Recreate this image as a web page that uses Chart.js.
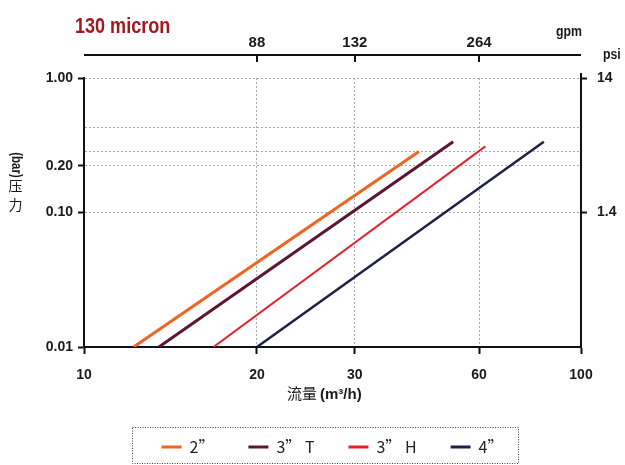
<!DOCTYPE html>
<html>
<head>
<meta charset="utf-8">
<title>130 micron</title>
<script src="https://cdn.jsdelivr.net/npm/chart.js@4.4.1/dist/chart.umd.min.js"></script>
<style>
  html, body { margin: 0; padding: 0; background: #fff; }
  .chart-box { width: 625px; height: 465px; position: relative; }
</style>
</head>
<body>
<div class="chart-box"><canvas id="pressureChart"></canvas></div>
<script>
// flow (m3/h) and pressure drop (bar) at the two ends of each curve
const seriesNames = ['2”', '3” T', '3” H', '4”'];
const flow2in = [12.2, 42.9];
const bar2in = [0.01, 0.26];
const flow3T = [13.5, 51.9];
const bar3T = [0.01, 0.31];
const flow3H = [16.8, 61.9];
const bar3H = [0.01, 0.285];
const flow4in = [20, 83];
const bar4in = [0.01, 0.31];

const flowTicks = [10, 20, 30, 60, 100];
const gpmTicks = [88, 132, 264];
const barTicks = [0.01, 0.1, 0.2, 1];
const barGridOnly = [0.26, 0.4];
const psiTicks = [1.4, 14];

const colors = ['#ee6423', '#5c1535', '#e6232c', '#1d2048'];
const widths = [3, 3, 2, 2.5];

const SANS = '"Liberation Sans", Arial, sans-serif';
const CJK = '"Noto Sans CJK SC", sans-serif';
const INK = '#1a1a1a';

// The printed axes are not true log axes: every labelled tick sits at its own spot.
// Between two knots the scale is logarithmic.
const flowKnots = { values: [10, 20, 30, 60, 100], fracs: [0, 0.348, 0.545, 0.795, 1] };
const barKnots = { values: [0.01, 0.1, 0.2, 1], fracs: [0, 0.5, 0.674, 1] };
const axisKnots = {
  x: flowKnots,
  x2: { values: flowKnots.values.map(v => v * 4.4), fracs: flowKnots.fracs },
  y: barKnots,
  y2: { values: barKnots.values.map(v => v * 14), fracs: barKnots.fracs }
};

function knotFrac(v, k) {
  const n = k.values.length;
  let i = 0;
  while (i < n - 2 && v > k.values[i + 1]) i++;
  const a = Math.log(k.values[i]);
  const b = Math.log(k.values[i + 1]);
  const t = (Math.log(v) - a) / (b - a);
  return k.fracs[i] + t * (k.fracs[i + 1] - k.fracs[i]);
}

function knotValue(d, k) {
  const n = k.fracs.length;
  let i = 0;
  while (i < n - 2 && d > k.fracs[i + 1]) i++;
  const t = (d - k.fracs[i]) / (k.fracs[i + 1] - k.fracs[i]);
  const a = Math.log(k.values[i]);
  const b = Math.log(k.values[i + 1]);
  return Math.exp(a + t * (b - a));
}

class KnotLogScale extends Chart.LogarithmicScale {
  static id = 'knotlog';
  static defaults = Chart.LogarithmicScale.defaults;
  getPixelForValue(value) {
    const v = value > 0 ? value : this.min;
    return this.getPixelForDecimal(knotFrac(v, axisKnots[this.id]));
  }
  getValueForPixel(pixel) {
    return knotValue(this.getDecimalForPixel(pixel), axisKnots[this.id]);
  }
}
Chart.register(KnotLogScale);

const flows = [flow2in, flow3T, flow3H, flow4in];
const bars = [bar2in, bar3T, bar3H, bar4in];

const datasets = seriesNames.map((name, i) => ({
  label: name,
  data: flows[i].map((x, j) => ({ x, y: bars[i][j] })),
  borderColor: colors[i],
  backgroundColor: colors[i],
  borderWidth: widths[i],
  pointRadius: 0,
  tension: 0,
  xAxisID: 'x',
  yAxisID: 'y'
}));

const tickFont = { family: SANS, size: 14, weight: 'bold' };

// condensed bold text, like the narrow face of the original
function narrowText(ctx, text, x, y, size, align) {
  ctx.save();
  ctx.font = 'bold ' + size + 'px ' + SANS;
  ctx.textAlign = align || 'left';
  ctx.translate(x, y);
  ctx.scale(0.82, 1);
  ctx.fillText(text, 0, 0);
  ctx.restore();
}

const decorations = {
  id: 'decorations',
  afterDraw(chart) {
    const { ctx, chartArea: area, scales } = chart;
    ctx.save();

    // gpm axis line sits above the plot, ticks hang down from it
    const topY = 55;
    ctx.strokeStyle = '#111';
    ctx.lineWidth = 2;
    ctx.beginPath();
    ctx.moveTo(area.left, topY);
    ctx.lineTo(area.right, topY);
    gpmTicks.forEach(v => {
      const px = Math.round(scales.x2.getPixelForValue(v));
      ctx.moveTo(px, topY);
      ctx.lineTo(px, topY + 7);
    });
    ctx.moveTo(area.right, area.top);
    ctx.lineTo(area.right, area.top - 5);
    ctx.stroke();

    // title and unit labels
    ctx.textBaseline = 'alphabetic';
    ctx.fillStyle = '#a3171e';
    narrowText(ctx, '130 micron', 75, 33, 22);

    ctx.fillStyle = INK;
    narrowText(ctx, 'gpm', 582, 36, 15, 'right');
    narrowText(ctx, 'psi', 603, 59, 15);

    // x title: chinese + bold unit
    ctx.textAlign = 'left';
    ctx.font = '15px ' + CJK;
    const cjkW = ctx.measureText('流量').width;
    ctx.fillText('流量', 287, 399);
    ctx.font = 'bold 15px ' + SANS;
    ctx.fillText('(m³/h)', 287 + cjkW + 3, 399);

    // y title: vertical, latin part turned, chinese upright
    ctx.save();
    ctx.translate(15.5, 165);
    ctx.rotate(Math.PI / 2);
    ctx.textBaseline = 'middle';
    narrowText(ctx, '(bar)', 0, 0, 14, 'center');
    ctx.restore();
    ctx.textAlign = 'center';
    ctx.font = '14px ' + CJK;
    ctx.fillText('压', 15.5, 191);
    ctx.fillText('力', 15.5, 209.5);

    // dotted frame round the legend
    const boxes = chart.legend.legendHitBoxes;
    if (boxes && boxes.length) {
      const left = Math.min(...boxes.map(b => b.left));
      const right = Math.max(...boxes.map(b => b.left + b.width));
      const cy = boxes[0].top + boxes[0].height / 2;
      ctx.strokeStyle = '#444';
      ctx.lineWidth = 1;
      ctx.setLineDash([1, 1.5]);
      ctx.strokeRect(Math.round(left - 30) + 0.5, Math.round(cy - 20) + 0.5,
        Math.round(right - left + 44), 36);
    }
    ctx.restore();
  }
};

new Chart(document.getElementById('pressureChart'), {
  type: 'line',
  data: { datasets },
  plugins: [decorations],
  options: {
    responsive: true,
    maintainAspectRatio: false,
    animation: false,
    layout: { padding: 0 },
    scales: {
      x: {
        type: 'knotlog',
        position: 'bottom',
        min: 10,
        max: 100,
        afterBuildTicks: s => { s.ticks = flowTicks.map(v => ({ value: v })); },
        afterFit: s => { s.height = 58; },
        ticks: { callback: v => String(v), font: tickFont, color: INK, padding: 13, maxRotation: 0, autoSkip: false },
        grid: { color: '#a9a9a9', lineWidth: 1, tickLength: 7, tickWidth: 2, tickColor: '#111', tickBorderDash: [] },
        border: { color: '#111', width: 2, dash: [2, 2] }
      },
      x2: {
        type: 'knotlog',
        position: 'top',
        min: 44,
        max: 440,
        afterBuildTicks: s => { s.ticks = gpmTicks.map(v => ({ value: v })); },
        afterFit: s => { s.height = 78; },
        ticks: { callback: v => String(v), font: { family: SANS, size: 15, weight: 'bold' }, color: INK, padding: 26, maxRotation: 0, autoSkip: false },
        grid: { display: false, drawTicks: false },
        border: { display: false }
      },
      y: {
        type: 'knotlog',
        position: 'left',
        min: 0.01,
        max: 1,
        afterBuildTicks: s => { s.ticks = barTicks.concat(barGridOnly).sort((a, b) => a - b).map(v => ({ value: v })); },
        afterFit: s => { s.width = 84; },
        ticks: { callback: v => (barTicks.includes(v) ? v.toFixed(2) : ''), font: tickFont, color: INK, padding: 5, autoSkip: false },
        grid: {
          color: '#a9a9a9', lineWidth: 1, tickLength: 6, tickWidth: 2, tickBorderDash: [],
          tickColor: c => (c.tick && barTicks.includes(c.tick.value) ? '#111' : 'rgba(0,0,0,0)')
        },
        border: { color: '#111', width: 2, dash: [2, 2] }
      },
      y2: {
        type: 'knotlog',
        position: 'right',
        min: 0.14,
        max: 14,
        afterBuildTicks: s => { s.ticks = psiTicks.map(v => ({ value: v })); },
        afterFit: s => { s.width = 44; },
        ticks: { callback: v => String(v), font: tickFont, color: INK, padding: 10, autoSkip: false },
        grid: { drawOnChartArea: false, tickLength: 6, tickWidth: 2, tickColor: '#111', tickBorderDash: [] },
        border: { color: '#111', width: 2 }
      }
    },
    plugins: {
      legend: {
        position: 'bottom',
        fullSize: false,
        labels: {
          boxWidth: 20,
          boxHeight: 3,
          padding: 34,
          color: '#222',
          font: { family: CJK, size: 16, lineHeight: 1 },
          generateLabels: chart => Chart.defaults.plugins.legend.labels.generateLabels(chart)
            .map(item => Object.assign(item, { lineWidth: 0 }))
        }
      },
      tooltip: { enabled: false }
    }
  }
});
</script>
</body>
</html>
